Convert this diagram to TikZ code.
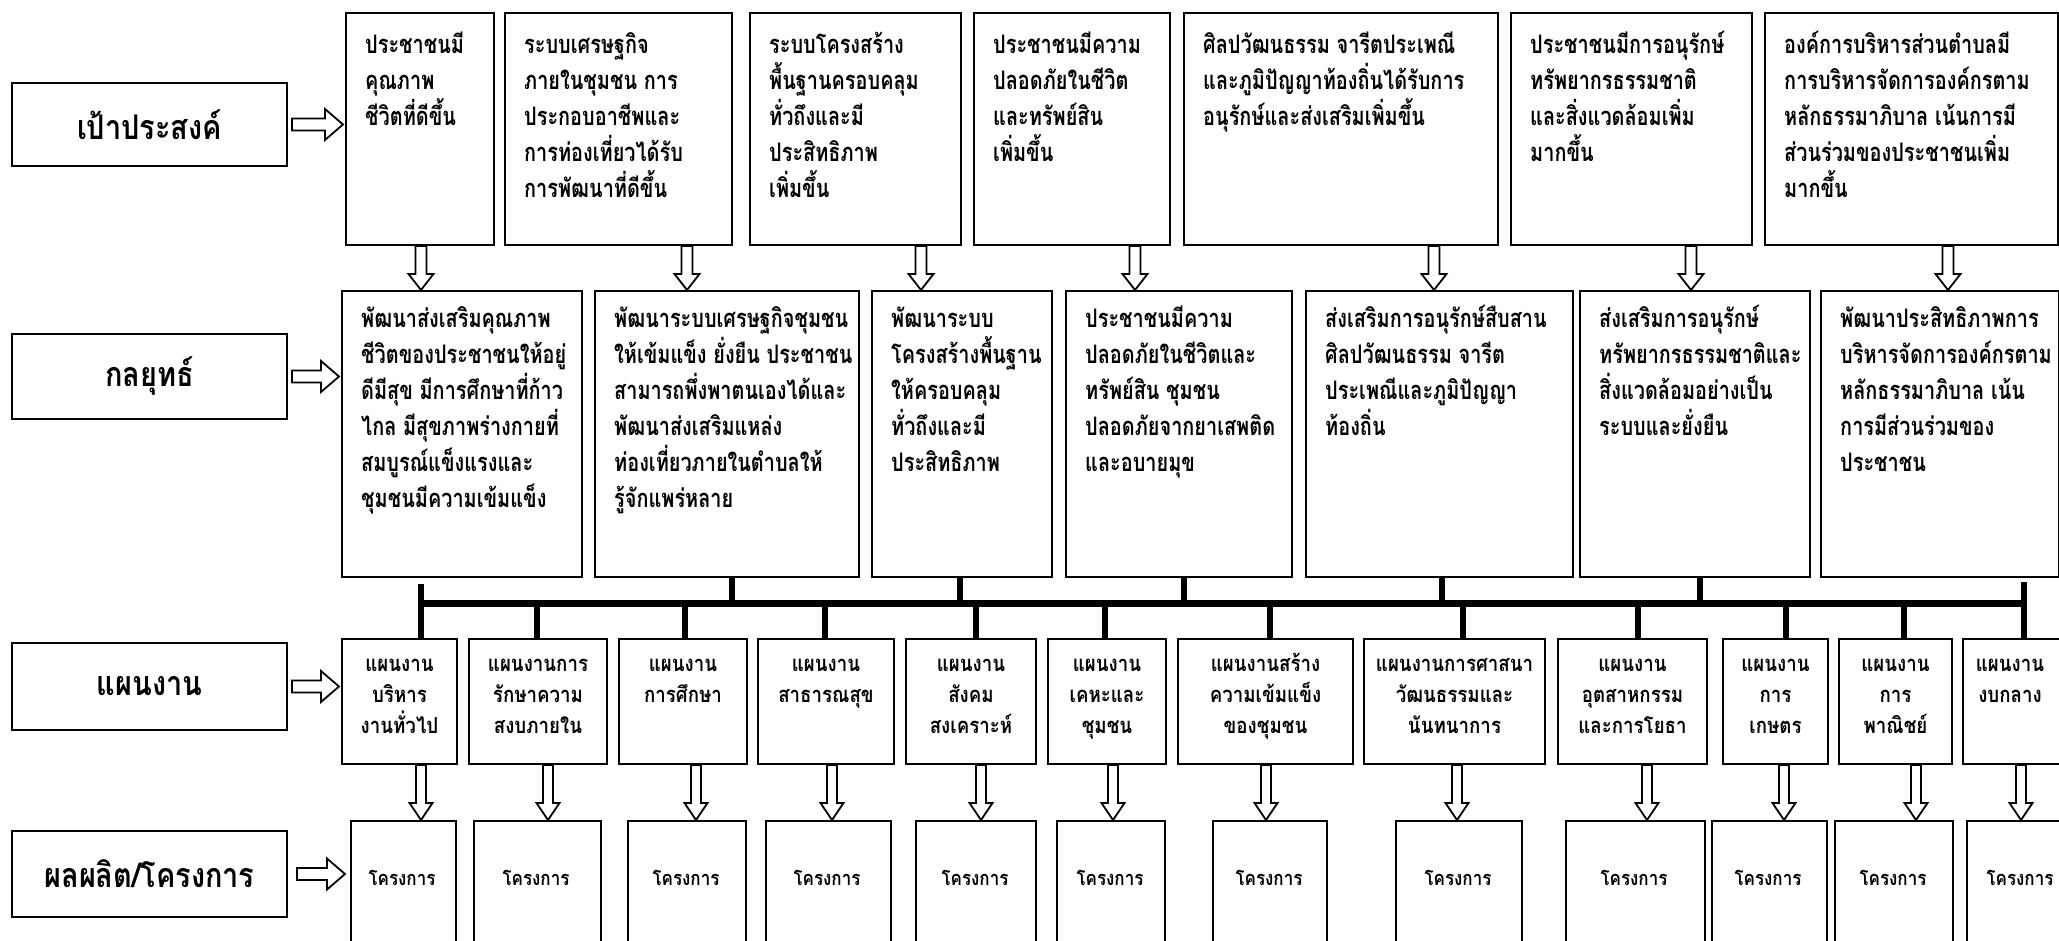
\documentclass[tikz,border=0pt]{standalone}
\usepackage{fontspec}
\usetikzlibrary{calc}
\newfontfamily\thai[Script=Thai,FakeStretch=0.78]{Loma}
\newfontfamily\thaiw[Script=Thai,FakeStretch=0.85]{Loma}
\lineskiplimit=-100pt
\newcommand\tstrut{\rule{0pt}{30pt}}
\newcommand\pstrut{\rule{0pt}{27pt}}
\tikzset{
  box/.style={draw, line width=2pt, anchor=north west, inner sep=0pt, fill=white},
  lab/.style={box, font=\thaiw\bfseries\fontsize{34}{40}\selectfont},
  txt/.style={anchor=north west, align=left, inner sep=0pt, font=\thai\bfseries\fontsize{25.5}{36}\selectfont},
  ptxt/.style={anchor=north, align=center, inner sep=0pt, font=\thaiw\bfseries\fontsize{22}{31}\selectfont},
  qtxt/.style={anchor=center, inner sep=0pt, font=\thaiw\bfseries\fontsize{20}{25}\selectfont},
  harrow/.style={draw, fill=white, line width=1.8pt, line join=miter},
  bus/.style={line width=7pt},
  stub/.style={line width=6pt}
}
\newcommand\bx[5]{\node[box, minimum width={#4-#2}, minimum height={#5-#3}] (#1) at (#2,#3) {};}
\newcommand\tx[3]{\node[txt] (#1t) at ($(#1.north west)+(20,#2)$) {\tstrut #3};}
\newcommand\ptx[2]{\node[ptxt] (#1t) at ($(#1.north)+(0,6)$) {\pstrut #2};}
\newcommand\darrow[5]{\draw[harrow] ($(#1)+(-#3,0)$) -- ($(#2)+(-#3,-#5)$) -- ($(#2)+(-#4,-#5)$) -- (#2) -- ($(#2)+(#4,-#5)$) -- ($(#2)+(#3,-#5)$) -- ($(#1)+(#3,0)$) -- cycle;}
\newcommand\rarrow[5]{\draw[harrow] ($(#1)+(0,-#3)$) -- ($(#2)+(-#5,-#3)$) -- ($(#2)+(-#5,-#4)$) -- (#2) -- ($(#2)+(-#5,#4)$) -- ($(#2)+(-#5,#3)$) -- ($(#1)+(0,#3)$) -- cycle;}
\begin{document}
\begin{tikzpicture}[x=1pt,y=-1pt]
\clip (0,0) rectangle (2059,941);
\fill[white] (0,0) rectangle (2059,941);
% row labels
\node[lab, minimum width=275, minimum height=83] (L1) at (11,82) {เป้าประสงค์};
\node[lab, minimum width=275, minimum height=85] (L2) at (11,333) {กลยุทธ์};
\node[lab, minimum width=275, minimum height=87] (L3) at (11,642) {แผนงาน};
\node[lab, minimum width=275, minimum height=86] (L4) at (11,830) {ผลผลิต/โครงการ};
% goals
\bx{g1}{345}{12}{493}{244}
\bx{g2}{504}{12}{731}{244}
\bx{g3}{749}{12}{960}{244}
\bx{g4}{973}{12}{1169}{244}
\bx{g5}{1183}{12}{1497}{244}
\bx{g6}{1510}{12}{1751}{244}
\bx{g7}{1764}{12}{2057}{244}
\tx{g1}{11}{ประชาชนมี\\คุณภาพ\\ชีวิตที่ดีขึ้น}
\tx{g2}{11}{ระบบเศรษฐกิจ\\ภายในชุมชน การ\\ประกอบอาชีพและ\\การท่องเที่ยวได้รับ\\การพัฒนาที่ดีขึ้น}
\tx{g3}{11}{ระบบโครงสร้าง\\พื้นฐานครอบคลุม\\ทั่วถึงและมี\\ประสิทธิภาพ\\เพิ่มขึ้น}
\tx{g4}{11}{ประชาชนมีความ\\ปลอดภัยในชีวิต\\และทรัพย์สิน\\เพิ่มขึ้น}
\tx{g5}{11}{ศิลปวัฒนธรรม จารีตประเพณี\\และภูมิปัญญาท้องถิ่นได้รับการ\\อนุรักษ์และส่งเสริมเพิ่มขึ้น}
\tx{g6}{11}{ประชาชนมีการอนุรักษ์\\ทรัพยากรธรรมชาติ\\และสิ่งแวดล้อมเพิ่ม\\มากขึ้น}
\tx{g7}{11}{องค์การบริหารส่วนตำบลมี\\การบริหารจัดการองค์กรตาม\\หลักธรรมาภิบาล เน้นการมี\\ส่วนร่วมของประชาชนเพิ่ม\\มากขึ้น}
% strategies
\bx{s1}{341}{290}{581}{576}
\bx{s2}{594}{290}{858}{576}
\bx{s3}{871}{290}{1051}{576}
\bx{s4}{1065}{290}{1291}{576}
\bx{s5}{1305}{290}{1572}{576}
\bx{s6}{1579}{290}{1809}{576}
\bx{s7}{1820}{290}{2058}{576}
\tx{s1}{7}{พัฒนาส่งเสริมคุณภาพ\\ชีวิตของประชาชนให้อยู่\\ดีมีสุข มีการศึกษาที่ก้าว\\ไกล มีสุขภาพร่างกายที่\\สมบูรณ์แข็งแรงและ\\ชุมชนมีความเข้มแข็ง}
\tx{s2}{7}{พัฒนาระบบเศรษฐกิจชุมชน\\ให้เข้มแข็ง ยั่งยืน ประชาชน\\สามารถพึ่งพาตนเองได้และ\\พัฒนาส่งเสริมแหล่ง\\ท่องเที่ยวภายในตำบลให้\\รู้จักแพร่หลาย}
\tx{s3}{7}{พัฒนาระบบ\\โครงสร้างพื้นฐาน\\ให้ครอบคลุม\\ทั่วถึงและมี\\ประสิทธิภาพ}
\tx{s4}{7}{ประชาชนมีความ\\ปลอดภัยในชีวิตและ\\ทรัพย์สิน ชุมชน\\ปลอดภัยจากยาเสพติด\\และอบายมุข}
\tx{s5}{7}{ส่งเสริมการอนุรักษ์สืบสาน\\ศิลปวัฒนธรรม จารีต\\ประเพณีและภูมิปัญญา\\ท้องถิ่น}
\tx{s6}{7}{ส่งเสริมการอนุรักษ์\\ทรัพยากรธรรมชาติและ\\สิ่งแวดล้อมอย่างเป็น\\ระบบและยั่งยืน}
\tx{s7}{7}{พัฒนาประสิทธิภาพการ\\บริหารจัดการองค์กรตาม\\หลักธรรมาภิบาล เน้น\\การมีส่วนร่วมของ\\ประชาชน}
% plans
\bx{p1}{341}{638}{456}{763}
\bx{p2}{468}{638}{606}{763}
\bx{p3}{618}{638}{746}{763}
\bx{p4}{757}{638}{893}{763}
\bx{p5}{905}{638}{1035}{763}
\bx{p6}{1047}{638}{1165}{763}
\bx{p7}{1177}{638}{1352}{763}
\bx{p8}{1363}{638}{1544}{763}
\bx{p9}{1557}{638}{1706}{763}
\bx{p10}{1722}{638}{1827}{763}
\bx{p11}{1838}{638}{1951}{763}
\bx{p12}{1962}{638}{2080}{763}
\ptx{p1}{แผนงาน\\บริหาร\\งานทั่วไป}
\ptx{p2}{แผนงานการ\\รักษาความ\\สงบภายใน}
\ptx{p3}{แผนงาน\\การศึกษา}
\ptx{p4}{แผนงาน\\สาธารณสุข}
\ptx{p5}{แผนงาน\\สังคม\\สงเคราะห์}
\ptx{p6}{แผนงาน\\เคหะและ\\ชุมชน}
\ptx{p7}{แผนงานสร้าง\\ความเข้มแข็ง\\ของชุมชน}
\ptx{p8}{แผนงานการศาสนา\\วัฒนธรรมและ\\นันทนาการ}
\ptx{p9}{แผนงาน\\อุตสาหกรรม\\และการโยธา}
\ptx{p10}{แผนงาน\\การ\\เกษตร}
\ptx{p11}{แผนงาน\\การ\\พาณิชย์}
\node[ptxt] (p12t) at ($(p12.north west)+(48,6)$) {\pstrut แผนงาน\\งบกลาง};
% projects
\foreach \i/\a/\b in {1/350/455,2/473/600,3/627/745,4/765/890,5/915/1035,6/1056/1164,7/1212/1326,8/1395/1521,9/1565/1704,10/1711/1826,11/1834/1952,12/1966/2080}{
  \bx{q\i}{\a}{820}{\b}{960}
}
\foreach \i/\x in {1/402,2/536,3/686,4/827,5/975,6/1110,7/1269,8/1458,9/1634,10/1768,11/1893,12/2020}{
  \node[qtxt] (q\i t) at (\x,878) {โครงการ};
}
% label arrows
\foreach \i/\t in {1/g1,2/s1,3/p1}{
  \coordinate (la\i) at ($(L\i.east)+(4,0)$);
  \coordinate (lb\i) at ($(L\i.east -| \t.west)+(-2,0)$);
  \rarrow{la\i}{lb\i}{6}{15.5}{18}
}
\coordinate (la4) at ($(L4.east)+(9,0)$);
\coordinate (lb4) at ($(L4.east -| q1.west)+(-5,0)$);
\rarrow{la4}{lb4}{6}{15.5}{18}
% goal -> strategy arrows
\foreach \i/\x in {1/421,2/687,3/921,4/1135,5/1434,6/1691,7/1948}{
  \coordinate (ga\i) at (\x,0 |- g\i.south);
  \coordinate (gb\i) at (\x,0 |- s\i.north);
  \darrow{ga\i}{gb\i}{5.5}{12.5}{16}
}
% bus
\coordinate (bus) at (0,603);
\coordinate (bl) at (421,0);
\coordinate (br) at (2024,0);
\draw[bus] (bl |- bus) -- (br |- bus);
\draw[stub] ($(bl |- s1.south)+(0,6)$) -- (bl |- p1.north);
\draw[stub] ($(br |- s7.south)+(0,4)$) -- (br |- p12.north);
\foreach \i/\x in {2/732,3/960,4/1184,5/1442,6/1700}{
  \coordinate (u\i) at (\x,0);
  \draw[stub] (u\i |- s\i.south) -- (u\i |- bus);
}
\foreach \i/\x in {2/537,3/685,4/825,5/976,6/1105,7/1270,8/1463,9/1638,10/1786,11/1904}{
  \coordinate (d\i) at (\x,0);
  \draw[stub] (d\i |- bus) -- (d\i |- p\i.north);
}
% plan -> project arrows
\foreach \i/\x in {1/421,2/548,3/696,4/832,5/981,6/1113,7/1266,8/1457,9/1647,10/1784,11/1916,12/2021}{
  \coordinate (pa\i) at (\x,0 |- p\i.south);
  \coordinate (pb\i) at (\x,0 |- q\i.north);
  \darrow{pa\i}{pb\i}{5}{11.5}{17}
}
\end{tikzpicture}
\end{document}
